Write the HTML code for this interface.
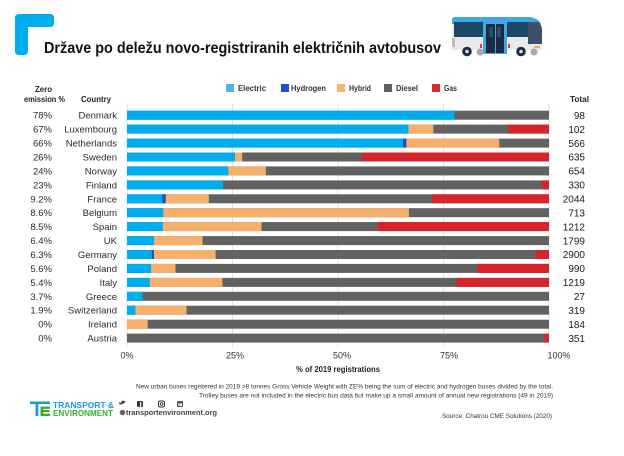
<!DOCTYPE html>
<html><head><meta charset="utf-8"><style>
html,body{margin:0;padding:0;background:#fff;}
svg{display:block;}
text{font-family:"Liberation Sans",sans-serif;}
</style></head><body>
<svg width="624" height="456" viewBox="0 0 624 456" xmlns="http://www.w3.org/2000/svg">
<rect width="624" height="456" fill="#fff"/>
<!-- corner L -->
<path d="M19,14 H50 Q54,14 54,18 V23 Q54,27 50,27 H28 V51 Q28,55 24,55 H19 Q15,55 15,51 V18 Q15,14 19,14 Z" fill="#00aeef"/>
<text x="44" y="53" font-size="16" font-weight="bold" fill="#111" textLength="397" lengthAdjust="spacingAndGlyphs">Države po deležu novo-registriranih električnih avtobusov</text>
<!-- bus -->
<g>
<path d="M455,17 H530 Q541,18 542,30 V48 Q542,50 540,50 H452 V20 Q452,17 455,17 Z" fill="#e9e9ea"/>
<path d="M455,17 H530 Q538,18 541,24 H452 V20 Q452,17 455,17 Z" fill="#3fa8dc"/>
<rect x="454" y="22" width="29" height="15" fill="#1d4766"/>
<rect x="507" y="22" width="21" height="15" fill="#1d4766"/>
<path d="M528,22 H539 Q542,26 542,30 V44 H528 Z" fill="#3c5068"/>
<rect x="452" y="38" width="3" height="9" fill="#bbb"/>
<rect x="483" y="17" width="24" height="37" fill="#3fa8dc"/>
<rect x="486" y="24" width="18" height="29" fill="#1e2a44"/>
<rect x="489" y="27" width="4" height="10" fill="#2f4a66"/>
<rect x="497" y="27" width="4" height="10" fill="#2f4a66"/>
<rect x="495" y="24" width="1" height="29" fill="#3fa8dc"/>
<rect x="508" y="44" width="2" height="4" fill="#e33"/>
<rect x="480" y="44" width="2" height="4" fill="#e33"/>
<rect x="534" y="46" width="6" height="2" fill="#f5b040"/>
<circle cx="480" cy="52" r="3.5" fill="#aaa"/>
<circle cx="534" cy="52" r="3.5" fill="#aaa"/>
<circle cx="467" cy="51.5" r="4.8" fill="#1e2a44"/>
<circle cx="467" cy="51.5" r="1.8" fill="#ddd"/>
<circle cx="521" cy="51.5" r="4.8" fill="#1e2a44"/>
<circle cx="521" cy="51.5" r="1.8" fill="#ddd"/>
</g>
<!-- legend -->
<g font-size="8" font-weight="bold" fill="#333">
<rect x="226" y="84" width="8" height="8" fill="#4cb2e8"/>
<text x="238" y="91" textLength="28" lengthAdjust="spacingAndGlyphs">Electric</text>
<rect x="281" y="84" width="8" height="8" fill="#1f4fc8"/>
<text x="291" y="91" textLength="35" lengthAdjust="spacingAndGlyphs">Hydrogen</text>
<rect x="337" y="84" width="8" height="8" fill="#f4b479"/>
<text x="349" y="91" textLength="22" lengthAdjust="spacingAndGlyphs">Hybrid</text>
<rect x="384" y="84" width="8" height="8" fill="#626262"/>
<text x="396" y="91" textLength="22" lengthAdjust="spacingAndGlyphs">Diesel</text>
<rect x="432" y="84" width="8" height="8" fill="#d42b2b"/>
<text x="444" y="91" textLength="13" lengthAdjust="spacingAndGlyphs">Gas</text>
</g>
<g font-size="8" font-weight="bold" fill="#222">
<text x="35" y="92" textLength="17" lengthAdjust="spacingAndGlyphs">Zero</text>
<text x="24" y="102" textLength="41" lengthAdjust="spacingAndGlyphs">emission %</text>
<text x="81" y="102" textLength="30" lengthAdjust="spacingAndGlyphs">Country</text>
<text x="570" y="102" textLength="19" lengthAdjust="spacingAndGlyphs">Total</text>
</g>
<!-- gridlines -->
<g stroke="#e2e2e2" stroke-width="1">
<line x1="127" y1="104" x2="127" y2="347"/>
<line x1="232.5" y1="104" x2="232.5" y2="347"/>
<line x1="338" y1="104" x2="338" y2="347"/>
<line x1="443.5" y1="104" x2="443.5" y2="347"/>
<line x1="549" y1="104" x2="549" y2="347"/>
</g>
<!-- diesel base bars -->
<g fill="#626262">
<rect x="127" y="110.7" width="422" height="9"/>
<rect x="127" y="124.6" width="422" height="9"/>
<rect x="127" y="138.6" width="422" height="9"/>
<rect x="127" y="152.5" width="422" height="9"/>
<rect x="127" y="166.4" width="422" height="9"/>
<rect x="127" y="180.4" width="422" height="9"/>
<rect x="127" y="194.3" width="422" height="9"/>
<rect x="127" y="208.2" width="422" height="9"/>
<rect x="127" y="222.1" width="422" height="9"/>
<rect x="127" y="236.1" width="422" height="9"/>
<rect x="127" y="250.0" width="422" height="9"/>
<rect x="127" y="263.9" width="422" height="9"/>
<rect x="127" y="277.9" width="422" height="9"/>
<rect x="127" y="291.8" width="422" height="9"/>
<rect x="127" y="305.7" width="422" height="9"/>
<rect x="127" y="319.7" width="422" height="9"/>
<rect x="127" y="333.6" width="422" height="9"/>
</g>
<!-- electric -->
<g fill="#00aeef">
<rect x="127" y="110.7" width="327.5" height="9"/>
<rect x="127" y="124.6" width="281.5" height="9"/>
<rect x="127" y="138.6" width="276" height="9"/>
<rect x="127" y="152.5" width="108" height="9"/>
<rect x="127" y="166.4" width="101.3" height="9"/>
<rect x="127" y="180.4" width="95.8" height="9"/>
<rect x="127" y="194.3" width="35.4" height="9"/>
<rect x="127" y="208.2" width="36.3" height="9"/>
<rect x="127" y="222.1" width="35.9" height="9"/>
<rect x="127" y="236.1" width="27" height="9"/>
<rect x="127" y="250.0" width="24.9" height="9"/>
<rect x="127" y="263.9" width="24.1" height="9"/>
<rect x="127" y="277.9" width="22.8" height="9"/>
<rect x="127" y="291.8" width="15.6" height="9"/>
<rect x="127" y="305.7" width="8.4" height="9"/>
</g>
<!-- hydrogen -->
<g fill="#1f4fc8">
<rect x="403" y="138.6" width="3.4" height="9"/>
<rect x="162.4" y="194.3" width="3.4" height="9"/>
<rect x="151.9" y="250.0" width="2.1" height="9"/>
</g>
<!-- hybrid -->
<g fill="#f6b06c">
<rect x="408.5" y="124.6" width="24.9" height="9"/>
<rect x="406.4" y="138.6" width="92.8" height="9"/>
<rect x="235" y="152.5" width="7.2" height="9"/>
<rect x="228.3" y="166.4" width="37.5" height="9"/>
<rect x="165.8" y="194.3" width="43.1" height="9"/>
<rect x="163.3" y="208.2" width="245.6" height="9"/>
<rect x="162.9" y="222.1" width="98.7" height="9"/>
<rect x="154" y="236.1" width="48.5" height="9"/>
<rect x="154" y="250.0" width="61.6" height="9"/>
<rect x="151.1" y="263.9" width="24.4" height="9"/>
<rect x="149.8" y="277.9" width="72.6" height="9"/>
<rect x="135.4" y="305.7" width="51.1" height="9"/>
<rect x="127" y="319.7" width="20.7" height="9"/>
</g>
<!-- gas -->
<g fill="#d7242a">
<rect x="508.1" y="124.6" width="40.9" height="9"/>
<rect x="361.6" y="152.5" width="187.4" height="9"/>
<rect x="541.8" y="180.4" width="7.2" height="9"/>
<rect x="432.1" y="194.3" width="116.9" height="9"/>
<rect x="377.7" y="222.1" width="171.3" height="9"/>
<rect x="535.5" y="250.0" width="13.5" height="9"/>
<rect x="476.8" y="263.9" width="72.2" height="9"/>
<rect x="456.6" y="277.9" width="92.4" height="9"/>
<rect x="544.4" y="333.6" width="4.6" height="9"/>
</g>
<!-- left labels -->
<g font-size="9.5" fill="#2a2a2a" text-anchor="end">
<text x="52" y="118.7">78%</text>
<text x="52" y="132.6">67%</text>
<text x="52" y="146.6">66%</text>
<text x="52" y="160.5">26%</text>
<text x="52" y="174.4">24%</text>
<text x="52" y="188.4">23%</text>
<text x="52" y="202.3">9.2%</text>
<text x="52" y="216.2">8.6%</text>
<text x="52" y="230.1">8.5%</text>
<text x="52" y="244.1">6.4%</text>
<text x="52" y="258.0">6.3%</text>
<text x="52" y="271.9">5.6%</text>
<text x="52" y="285.9">5.4%</text>
<text x="52" y="299.8">3.7%</text>
<text x="52" y="313.7">1.9%</text>
<text x="52" y="327.7">0%</text>
<text x="52" y="341.6">0%</text>
</g>
<g font-size="9.5" fill="#2a2a2a" text-anchor="end">
<text x="117" y="118.7">Denmark</text>
<text x="117" y="132.6">Luxembourg</text>
<text x="117" y="146.6">Netherlands</text>
<text x="117" y="160.5">Sweden</text>
<text x="117" y="174.4">Norway</text>
<text x="117" y="188.4">Finland</text>
<text x="117" y="202.3">France</text>
<text x="117" y="216.2">Belgium</text>
<text x="117" y="230.1">Spain</text>
<text x="117" y="244.1">UK</text>
<text x="117" y="258.0">Germany</text>
<text x="117" y="271.9">Poland</text>
<text x="117" y="285.9">Italy</text>
<text x="117" y="299.8">Greece</text>
<text x="117" y="313.7">Switzerland</text>
<text x="117" y="327.7">Ireland</text>
<text x="117" y="341.6">Austria</text>
</g>
<g font-size="10" fill="#1a1a1a" text-anchor="end">
<text x="585" y="118.9">98</text>
<text x="585" y="132.8">102</text>
<text x="585" y="146.8">566</text>
<text x="585" y="160.7">635</text>
<text x="585" y="174.6">654</text>
<text x="585" y="188.6">330</text>
<text x="585" y="202.5">2044</text>
<text x="585" y="216.4">713</text>
<text x="585" y="230.3">1212</text>
<text x="585" y="244.3">1799</text>
<text x="585" y="258.2">2900</text>
<text x="585" y="272.1">990</text>
<text x="585" y="286.1">1219</text>
<text x="585" y="300.0">27</text>
<text x="585" y="313.9">319</text>
<text x="585" y="327.9">184</text>
<text x="585" y="341.8">351</text>
</g>
<!-- x ticks -->
<g font-size="9" fill="#333" text-anchor="middle">
<text x="127" y="358.5">0%</text>
<text x="235" y="358.5">25%</text>
<text x="342" y="358.5">50%</text>
<text x="449" y="358.5">75%</text>
<text x="559" y="358.5">100%</text>
</g>
<text x="296" y="372" font-size="8" font-weight="bold" fill="#222" textLength="84" lengthAdjust="spacingAndGlyphs">% of 2019 registrations</text>
<!-- notes -->
<g font-size="6.5" fill="#333">
<text x="136" y="388.5" textLength="417" lengthAdjust="spacingAndGlyphs">New urban buses registered in 2019 &gt;8 tonnes Gross Vehicle Weight with ZE% being the sum of electric and hydrogen buses divided by the total.</text>
<text x="199" y="397.5" textLength="354" lengthAdjust="spacingAndGlyphs">Trolley buses are not included in the electric bus data but make up a small amount of annual new registrations (49 in 2019)</text>
<text x="442" y="418" textLength="110" lengthAdjust="spacingAndGlyphs">Source: Chatrou CME Solutions (2020)</text>
</g>
<!-- logo -->
<g>
<rect x="30" y="401.5" width="20" height="2.6" fill="#1f9ad7"/>
<rect x="35.5" y="404" width="2.8" height="12" fill="#1f9ad7"/>
<rect x="40.5" y="406.5" width="2.8" height="9.5" fill="#3aaa35"/>
<rect x="40.5" y="406.5" width="9.5" height="2.4" fill="#3aaa35"/>
<rect x="40.5" y="410" width="9" height="2.2" fill="#3aaa35"/>
<rect x="40.5" y="413.7" width="9.5" height="2.4" fill="#3aaa35"/>
<text x="53" y="408" font-size="8.5" font-weight="bold" fill="#1f9ad7" textLength="61" lengthAdjust="spacingAndGlyphs">TRANSPORT &amp;</text>
<text x="53" y="416" font-size="8.5" font-weight="bold" fill="#3aaa35" textLength="60" lengthAdjust="spacingAndGlyphs">ENVIRONMENT</text>
<path d="M119,404 Q122,405 124,403 Q126,402 126,401 L125,402 Q124,400 122,401 Q121,402 121.5,403 Q120,403 119,402 Q119,404 120.5,404.5 Q120,405 119,404 Z" fill="#333"/>
<rect x="137" y="401" width="6" height="6" rx="1" fill="#333"/>
<rect x="140" y="402" width="1.2" height="5" fill="#fff"/>
<rect x="158.5" y="401" width="6" height="6" rx="1.5" fill="none" stroke="#333" stroke-width="1"/>
<circle cx="161.5" cy="404" r="1.3" fill="none" stroke="#333" stroke-width="0.9"/>
<rect x="177" y="401" width="6" height="6" rx="0.8" fill="#555"/>
<rect x="178.3" y="403" width="1.1" height="3" fill="#fff"/>
<rect x="180" y="403.5" width="2" height="2.5" fill="#fff"/>
<circle cx="122.5" cy="412.5" r="2.8" fill="#666"/>
<text x="126" y="415" font-size="7" font-weight="bold" fill="#444" textLength="91" lengthAdjust="spacingAndGlyphs">transportenvironment.org</text>
</g>
</svg>
</body></html>
